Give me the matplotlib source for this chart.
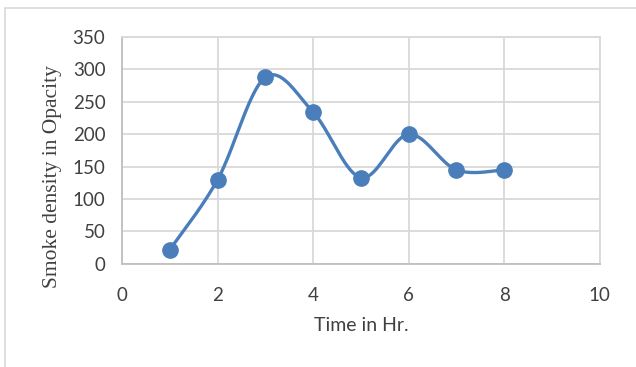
import numpy as np
import matplotlib.pyplot as plt
from matplotlib.patches import Rectangle

# smoke density readings over time
time_hr = [1, 2, 3, 4, 5, 6, 7, 8]
opacity = [22, 130, 288, 234, 133, 200, 145, 145]

x_ticks = [0, 2, 4, 6, 8, 10]
y_ticks = [0, 50, 100, 150, 200, 250, 300, 350]

line_col = '#4a7ebb'
grid_col = '#d9d9d9'


def smooth_curve(xs, ys, n=40):
    # cardinal spline through the points, like a spreadsheet "smoothed line"
    xs = np.asarray(xs, float)
    ys = np.asarray(ys, float)
    px = np.concatenate([[xs[0]], xs, [xs[-1]]])
    py = np.concatenate([[ys[0]], ys, [ys[-1]]])
    out_x, out_y = [], []
    t = np.linspace(0, 1, n)
    for i in range(1, len(px) - 2):
        p0 = np.array([px[i], py[i]])
        p3 = np.array([px[i + 1], py[i + 1]])
        c1 = p0 + (p3 - np.array([px[i - 1], py[i - 1]])) / 6
        c2 = p3 - (np.array([px[i + 2], py[i + 2]]) - p0) / 6
        b = ((1 - t) ** 3)[:, None] * p0 + (3 * (1 - t) ** 2 * t)[:, None] * c1 \
            + (3 * (1 - t) * t ** 2)[:, None] * c2 + (t ** 3)[:, None] * p3
        out_x.extend(b[:, 0])
        out_y.extend(b[:, 1])
    return out_x, out_y


fig = plt.figure(figsize=(6.36, 3.67), dpi=100)
ax = fig.add_axes([0.192, 0.281, 0.751, 0.618])

sx, sy = smooth_curve(time_hr, opacity)
ax.plot(sx, sy, color=line_col, lw=2.4, solid_capstyle='round', zorder=3)
ax.plot(time_hr, opacity, 'o', color=line_col, ms=11, zorder=4)

ax.set_xlim(0, 10)
ax.set_ylim(0, 350)
ax.set_xticks(x_ticks)
ax.set_yticks(y_ticks)
ax.grid(True, color=grid_col, lw=1.3)
ax.set_axisbelow(True)
for s in ax.spines.values():
    s.set_color(grid_col)
    s.set_linewidth(1.3)
ax.spines['left'].set_color('#bfbfbf')
ax.spines['bottom'].set_color('#bfbfbf')
ax.tick_params(length=0, labelsize=13.5, labelcolor='#404040')
ax.tick_params(axis='x', pad=17)
ax.tick_params(axis='y', pad=12)
for lab in ax.get_xticklabels() + ax.get_yticklabels():
    lab.set_family('Lato')

ax.set_xlabel('Time in Hr.', family='Lato', fontsize=14, color='#404040')
ax.set_ylabel('Smoke density in Opacity', family='Liberation Serif', fontsize=15.5,
              color='#404040')
ax.xaxis.set_label_coords(0.5, -0.27)
ax.yaxis.set_label_coords(-0.146, 0.383)
ax.yaxis.label.set_va('center')
ax.xaxis.label.set_va('center')

# outer chart frame
fig.patches.append(Rectangle((5 / 636, -0.1), 1.2, 1 - 8 / 367 + 0.1,
                             transform=fig.transFigure, fill=False,
                             edgecolor='#d9d9d9', lw=1.2))

plt.savefig('out.png', dpi=100)
